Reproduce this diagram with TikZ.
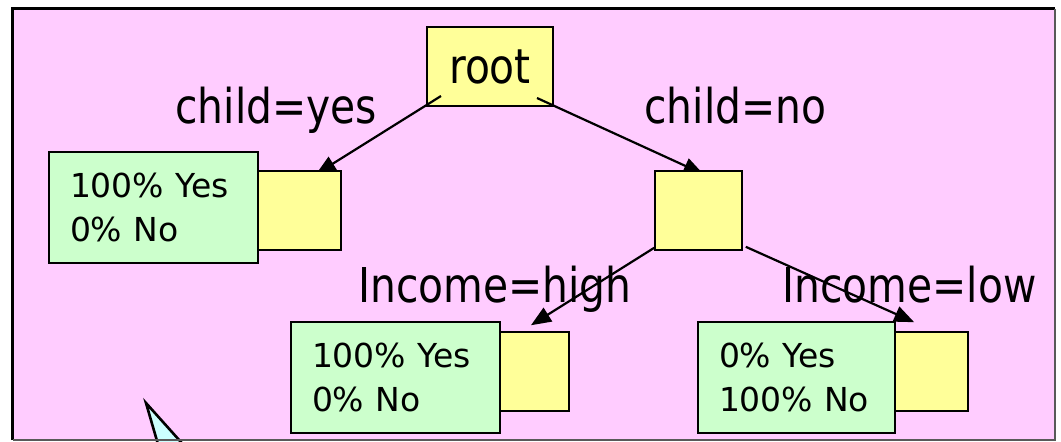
\documentclass[tikz,border=0pt]{standalone}
\usepackage{fontspec}
\setmainfont{DejaVu Sans}
\newfontfamily\narrowfont[FakeStretch=0.85]{DejaVu Sans}
\usetikzlibrary{arrows.meta,calc}
\definecolor{slidepink}{RGB}{255,204,255}
\definecolor{headyellow}{RGB}{255,255,153}
\definecolor{leafgreen}{RGB}{204,255,204}
\definecolor{tipcyan}{RGB}{204,255,255}
\pgfdeclarelayer{back}
\pgfdeclarelayer{links}
\pgfsetlayers{back,links,main}
\begin{document}
\begin{tikzpicture}[x=0.5pt,y=-0.5pt,
    head/.style={draw,fill=headyellow,line width=0.8pt,minimum height=39.5pt,inner sep=0},
    leaf/.style={draw,fill=leafgreen,line width=0.8pt,minimum height=55.5pt,inner xsep=10.5pt,inner ysep=0,
        align=left,font=\fontsize{16.5}{22}\selectfont},
    lbl/.style={anchor=base west,inner sep=0,font=\narrowfont\fontsize{24}{28}\selectfont},
    link/.style={line width=1.1pt,-{Triangle[length=10pt,width=8pt]}}]
    \useasboundingbox (0,0) rectangle (1061,441);

    \begin{pgfonlayer}{back}
    \fill[white] (0,0) rectangle (1061,441);
    \fill[slidepink] (12.5,8.5) rectangle (1055,440);
    \draw[fill=tipcyan,line width=1.3pt] (146,403) -- (158.5,446) -- (184.5,446) -- cycle;
    \draw[line width=1.2pt] (12.5,440) -- (12.5,8.5) -- (1055,8.5);
    \draw[gray!70!black,line width=1pt] (1055,8.5) -- (1055,440) -- (12.5,440);
    \node[head,line width=1pt,minimum width=63pt,font=\narrowfont\fontsize{24}{28}\selectfont] (root) at (490,66.5) {root};
    \end{pgfonlayer}

    \node[head,minimum width=41.5pt] (yeshead) at (299.5,210.5) {};
    \node[leaf,text width=83.5pt] (yesleaf) at (153.5,207.5) {100\% Yes\\0\% No};
    \node[head,minimum width=43.5pt] (nohead) at (698.5,210.5) {};
    \node[head,minimum width=34.5pt] (highhead) at (534.5,371.5) {};
    \node[leaf,text width=83.5pt] (highleaf) at (395.5,377.5) {100\% Yes\\0\% No};
    \node[head,minimum width=36.5pt] (lowhead) at (931.5,371.5) {};
    \node[leaf,text width=77.5pt] (lowleaf) at (796.5,377.5) {0\% Yes\\100\% No};

    \node[lbl] (yeslbl) at (175,123) {child=yes};
    \node[lbl] (nolbl) at (644,123) {child=no};
    \node[lbl] (highlbl) at (358,302) {Income=high};
    \node[lbl] (lowlbl) at (782,302) {Income=low};

    \begin{pgfonlayer}{links}
    \draw[link] ($(root.south west)+(15,-11)$) -- ($(yeshead.north)+(16.5,4)$);
    \draw[link] ($(root.south east)+(-17,-9)$) -- ($(nohead.north)+(5,4)$);
    \draw[link] ($(nohead.south west)+(0,-3)$) -- ($(highhead.north)+(-3.5,-6)$);
    \draw[link] ($(nohead.south east)+(3,-4)$) -- ($(lowhead.north west)+(20,-9)$);
    \end{pgfonlayer}
\end{tikzpicture}
\end{document}
